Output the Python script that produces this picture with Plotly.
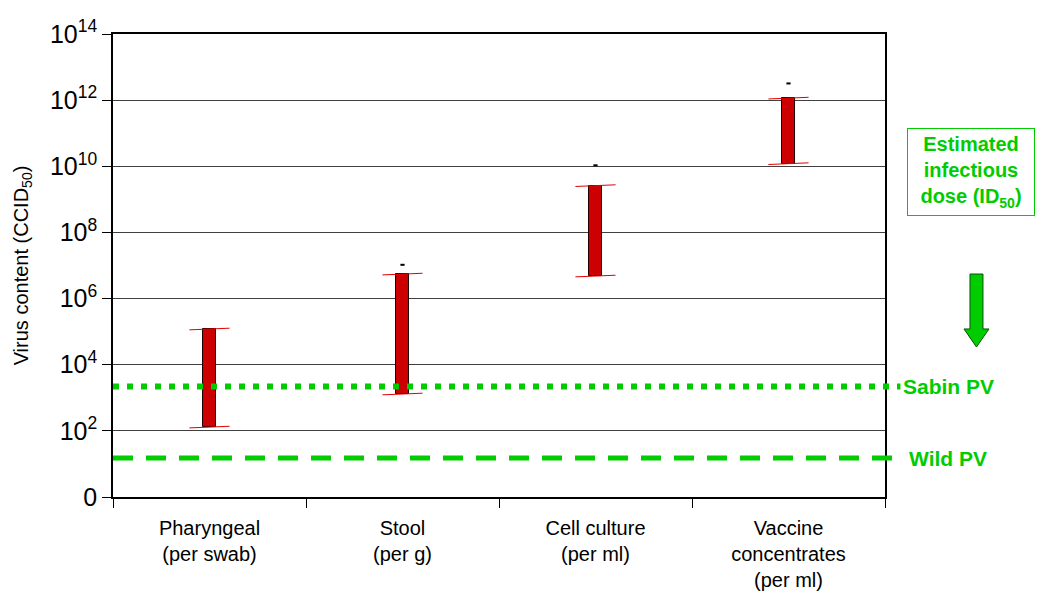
import numpy as np
import plotly.graph_objects as go

# Sample types on the horizontal axis
categories = [
    "Pharyngeal<br>(per swab)",
    "Stool<br>(per g)",
    "Cell culture<br>(per ml)",
    "Vaccine<br>concentrates<br>(per ml)",
]

# Range of virus content (CCID50) for each sample type
content_low = [1.3e2, 1.3e3, 4.8e6, 1.2e10]
content_high = [1.2e5, 5.5e6, 2.6e9, 1.15e12]
# Single reported maximum shown as a short dash above the range
content_peak = [None, 1.05e7, 1.07e10, 3.2e12]

# Estimated infectious doses (ID50)
sabin_dose = 2.2e3
wild_dose = 15

# Axis ticks: 10^0 ... 10^14 in steps of 100
tick_exponents = [0, 2, 4, 6, 8, 10, 12, 14]
tick_labels = ["0"] + [f"10<sup>{e}</sup>" for e in tick_exponents[1:]]

FONT = "Liberation Sans, Arial, sans-serif"
RED = "#CC0000"
GREEN = "#00CC00"
CAP_HALF = 0.104      # half width of the range caps, in category units
CAP_TILT = 0.025      # slight slant of the caps, in decades

x_pos = list(range(len(categories)))

fig = go.Figure()

# Range bars
fig.add_trace(go.Bar(
    x=x_pos,
    base=content_low,
    y=[h - l for h, l in zip(content_high, content_low)],
    width=0.066,
    marker=dict(color=RED, line=dict(color="#200000", width=1)),
    hoverinfo="skip",
))

# Caps at both ends of each range
cap_x, cap_y = [], []
for i, (lo, hi) in enumerate(zip(content_low, content_high)):
    for v in (lo, hi):
        cap_x += [i - CAP_HALF, i + CAP_HALF, None]
        cap_y += [v * 10 ** (-CAP_TILT), v * 10 ** CAP_TILT, None]
fig.add_trace(go.Scatter(
    x=cap_x, y=cap_y, mode="lines",
    line=dict(color="#E00000", width=1),
    hoverinfo="skip",
))

# Peak dashes
peak_x = [i for i, p in enumerate(content_peak) if p is not None]
peak_y = [p for p in content_peak if p is not None]
fig.add_trace(go.Scatter(
    x=peak_x, y=peak_y, mode="markers",
    marker=dict(symbol="line-ew", size=3, line=dict(color="black", width=2)),
    hoverinfo="skip",
))

# Infectious dose reference lines, running slightly past the plot frame
fig.add_shape(type="line", xref="paper", yref="y", x0=0, x1=1.02,
              y0=sabin_dose, y1=sabin_dose,
              line=dict(color=GREEN, width=6, dash="6px,8px"))
fig.add_shape(type="line", xref="paper", yref="y", x0=0, x1=1.02,
              y0=wild_dose, y1=wild_dose,
              line=dict(color=GREEN, width=5, dash="20px,13px"))

fig.add_annotation(text="<b>Sabin PV</b>", xref="paper", yref="y",
                   x=1.021, y=np.log10(sabin_dose), xanchor="left",
                   showarrow=False, font=dict(family=FONT, size=21, color=GREEN))
fig.add_annotation(text="<b>Wild PV</b>", xref="paper", yref="y",
                   x=1.028, y=np.log10(wild_dose), xanchor="left",
                   showarrow=False, font=dict(family=FONT, size=21, color=GREEN))

# Boxed heading for the dose scale
fig.add_annotation(
    text="<b>Estimated<br>infectious<br>dose (ID<sub>50</sub>)</b>",
    xref="paper", yref="paper", x=1.112, y=0.701,
    xanchor="center", yanchor="middle", showarrow=False,
    width=124, height=84, align="center",
    bordercolor=GREEN, borderwidth=1, borderpad=1, bgcolor="white",
    font=dict(family=FONT, size=20, color=GREEN),
)

# Downward block arrow under the heading
ax0, ax1 = 1.1101, 1.1269   # shaft
hx0, hx1 = 1.1023, 1.1347   # head
xc = (hx0 + hx1) / 2
ytop, yhead, ytip = 0.4816, 0.3629, 0.324
fig.add_shape(
    type="path", xref="paper", yref="paper",
    path=(f"M {ax0} {ytop} L {ax1} {ytop} L {ax1} {yhead} L {hx1} {yhead} "
          f"L {xc} {ytip} L {hx0} {yhead} L {ax0} {yhead} Z"),
    fillcolor=GREEN, line=dict(color="#005500", width=1),
)

fig.update_layout(
    width=1040, height=591,
    margin=dict(l=113, r=155, t=34, b=94, autoexpand=False),
    paper_bgcolor="white", plot_bgcolor="white",
    showlegend=False,
    font=dict(family=FONT, color="black"),
    bargap=0,
)

fig.update_yaxes(
    type="log", range=[0, 14],
    tickmode="array",
    tickvals=[10 ** e for e in tick_exponents],
    ticktext=tick_labels,
    tickfont=dict(family=FONT, size=25, color="black"),
    ticks="outside", ticklen=9, tickcolor="black", tickwidth=1,
    showline=True, linecolor="black", linewidth=1.5, mirror=True,
    showgrid=True, gridcolor="#404040", gridwidth=1,
    automargin=False,
    title=dict(text="Virus content (CCID<sub>50</sub>)",
               font=dict(family=FONT, size=20, color="black"), standoff=16),
)

fig.update_xaxes(
    range=[-0.5, 3.5],
    tickmode="array", tickvals=x_pos, ticktext=categories,
    ticks="", showgrid=False, zeroline=False,
    tickfont=dict(family=FONT, size=20, color="black"),
    showline=True, linecolor="black", linewidth=1.5, mirror=True,
    ticklabelstandoff=12,
    automargin=False,
    minor=dict(tickmode="array", tickvals=[i - 0.5 for i in range(len(categories) + 1)],
               ticks="outside", ticklen=9, tickcolor="black", tickwidth=1,
               showgrid=False),
)

fig.write_html("out.html")
